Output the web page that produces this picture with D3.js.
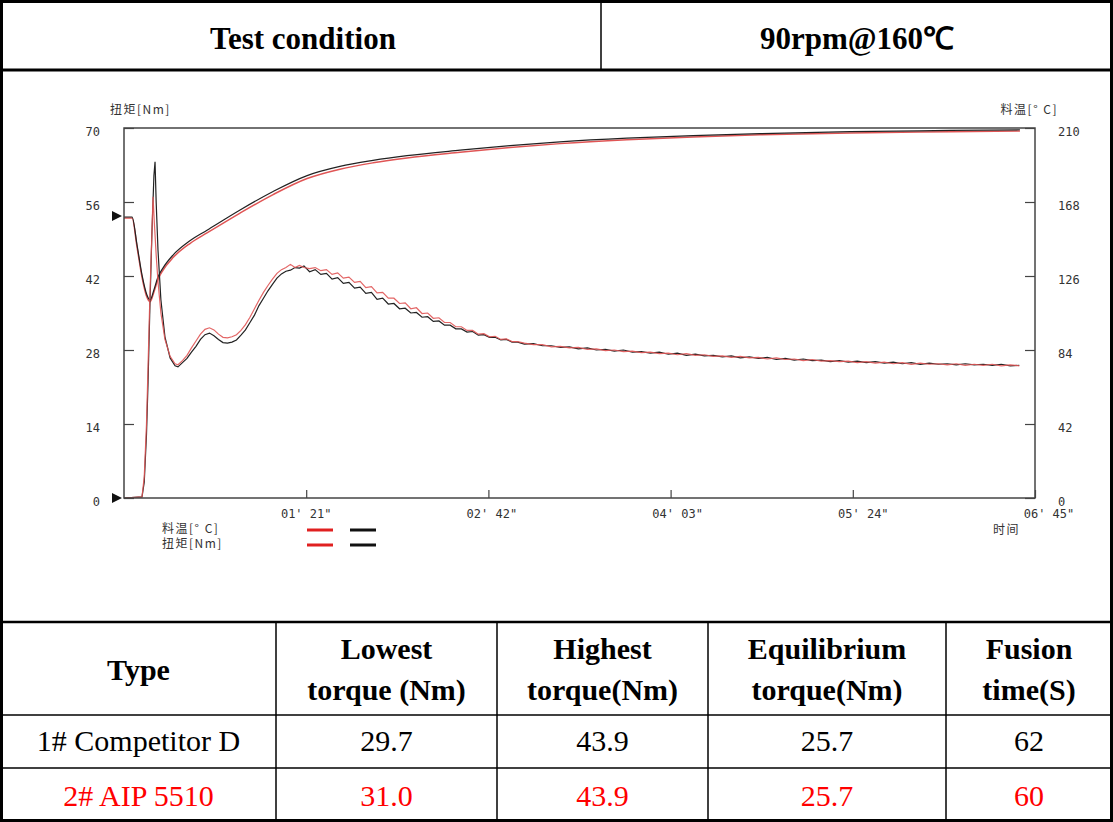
<!DOCTYPE html>
<html><head><meta charset="utf-8">
<script src="https://cdn.jsdelivr.net/npm/d3@7/dist/d3.min.js"></script>
<style>
body{margin:0;background:#fff;}
svg{display:block;}
</style></head>
<body><svg id="c" width="1113" height="822"></svg>
<script>
// ---------- data ----------
const torqueTicks = [0,14,28,42,56,70];
const tempTicks = [0,42,84,126,168,210];
const timeTicks = [81,162,243,324,405];

// temperature curves [time s, °C]
const tempBlack = [[0,159.5],[3.6,159.5],[5.8,143.6],[8,126.6],[10.2,115.2],[11.6,112.4],[13.3,118.1],[15.1,125.4],[17.3,130.5],[21.8,137.9],[29.3,146],[36.9,152],[51.6,163.5],[66.3,174],[81.4,183],[96,188.2],[110.7,191.6],[125.8,194.3],[149.4,197.4],[171.6,200],[193.8,202.1],[223.6,204.2],[253,205.7],[282.7,206.8],[322.8,207.9],[367.2,208.6],[398.3,209]];
const tempRed = [[0,159.5],[3.6,159.5],[5.8,143],[8,126],[10.2,114.5],[11.6,112],[13.3,117.5],[15.1,124.6],[17.3,129.8],[21.8,137],[29.3,145],[36.9,151],[51.6,162.3],[66.3,172.8],[81.4,181.9],[96,187.2],[110.7,190.8],[125.8,193.6],[149.4,196.8],[171.6,199.5],[193.8,201.7],[223.6,203.9],[253,205.5],[282.7,206.7],[322.8,207.8],[367.2,208.5],[398.3,208.9]];

// torque curves [time s, Nm]
const torqueBlack = [[0,0],[8,0.2],[9,3],[10,12],[10.7,22],[11.5,36],[12.4,50],[13.3,61],[13.8,63.6],[14.3,56],[15.1,47],[16.4,37.5],[18.2,30.5],[20.5,26.5],[22.7,25],[24,24.8],[26,25.6],[28,26.4],[30,27.6],[32,28.7],[34,30],[36,30.9],[38,31.2],[40,30.7],[42,30],[44,29.4],[46,29.3],[48,29.5],[50,29.9],[52,30.8],[54,31.8],[56,33.2],[58,34.6],[60,36.4],[62,37.8],[64,39.2],[66,40.4],[68,41.6],[70,42.4],[72,42.9],[74,43.1],[76,43.6],[78,43.5],[80,43.9],[82.5,42.8],[85,43.2],[87.5,42.3],[90,42.5],[92.5,41.4],[95,41.7],[97.5,40.6],[100,40.8],[102.5,39.7],[105,39.9],[107.5,38.7],[110,38.9],[112.5,37.6],[115,37.8],[117.5,36.7],[120,36.8],[122.5,35.8],[125,35.9],[127.5,35],[130,35.1],[132.5,34.2],[135,34.3],[137.5,33.4],[140,33.5],[142.5,32.7],[145,32.7],[147.5,32],[150,32],[152.5,31.4],[155,31.5],[157.5,30.8],[160,30.9],[162.5,30.4],[165,30.4],[167.5,29.9],[170,30],[172.5,29.5],[175,29.5],[178,29.1],[182,29.2],[186,28.8],[190,28.8],[194,28.5],[198,28.6],[202,28.2],[206,28.4],[210,28],[214,28.1],[218,27.8],[222,28],[226,27.6],[230,27.7],[234,27.4],[238,27.6],[242,27.2],[246,27.4],[250,27],[254,27.2],[258,26.9],[262,27],[266,26.7],[270,26.9],[274,26.5],[278,26.7],[282,26.4],[286,26.6],[290,26.2],[294,26.4],[298,26.1],[302,26.3],[306,26],[310,26.1],[314,25.8],[318,26],[322,25.7],[326,25.9],[330,25.6],[334,25.8],[338,25.5],[342,25.7],[346,25.4],[350,25.6],[354,25.3],[358,25.5],[362,25.3],[366,25.4],[370,25.2],[374,25.4],[378,25.2],[382,25.3],[386,25.1],[390,25.3],[394,25],[398,25.1]];
const torqueRed = [[0,0],[8,0.2],[9,4],[10,14],[10.7,25],[11.5,38],[12.4,50],[12.9,57],[13.5,52],[14.3,46],[15.1,41],[16.4,35],[18.2,30],[20.5,26.8],[22.7,25.4],[24,25.2],[26,26],[28,27],[30,28.4],[32,29.7],[34,31],[36,31.9],[38,32.2],[40,31.8],[42,31],[44,30.4],[46,30.3],[48,30.5],[50,30.9],[52,31.7],[54,32.8],[56,34.2],[58,35.8],[60,37.4],[62,38.9],[64,40.2],[66,41.4],[68,42.5],[70,43.2],[72,43.6],[74,44.2],[76,43.6],[78,44],[80,43.6],[82.5,43.4],[85,43.6],[87.5,43],[90,43.2],[92.5,42.3],[95,42.6],[97.5,41.6],[100,41.8],[102.5,40.8],[105,41],[107.5,39.8],[110,40],[112.5,38.8],[115,38.9],[117.5,37.8],[120,37.8],[122.5,36.8],[125,36.9],[127.5,35.8],[130,36],[132.5,34.9],[135,35],[137.5,34],[140,34.1],[142.5,33.2],[145,33.2],[147.5,32.4],[150,32.4],[152.5,31.7],[155,31.7],[157.5,31],[160,31.1],[162.5,30.5],[165,30.6],[167.5,30],[170,30.1],[172.5,29.6],[175,29.6],[178,29.3],[182,29],[186,29],[190,28.6],[194,28.7],[198,28.4],[202,28.5],[206,28.1],[210,28.2],[214,27.9],[218,28],[222,27.7],[226,27.8],[230,27.5],[234,27.6],[238,27.3],[242,27.4],[246,27.1],[250,27.3],[254,27],[258,27.1],[262,26.8],[266,26.9],[270,26.6],[274,26.8],[278,26.5],[282,26.6],[286,26.3],[290,26.5],[294,26.2],[298,26.3],[302,26],[306,26.2],[310,25.9],[314,26],[318,25.8],[322,25.9],[326,25.6],[330,25.8],[334,25.5],[338,25.7],[342,25.4],[346,25.6],[350,25.3],[354,25.5],[358,25.3],[362,25.4],[366,25.2],[370,25.4],[374,25.1],[378,25.3],[382,25.1],[386,25.3],[390,25],[394,25.2],[398,25]];

const setMarks = [{axis:"temp", v:160},{axis:"torque", v:0}];

// table
const headerCells = ["Test condition", "90rpm@160℃"];
const tableHeads = [["Type"],["Lowest","torque (Nm)"],["Highest","torque(Nm)"],["Equilibrium","torque(Nm)"],["Fusion","time(S)"]];
const rowCompetitor = ["1# Competitor D","29.7","43.9","25.7","62"];
const rowAIP = ["2# AIP 5510","31.0","43.9","25.7","60"];

// ---------- drawing ----------
const svg = d3.select("#c");
const serif = "'Liberation Serif','Times New Roman',serif";
const cjk = "'Noto Sans CJK SC','DejaVu Sans',sans-serif";
const mono = "'DejaVu Sans Mono','Liberation Mono',monospace";

// table grid
const colX = [1,276,497,708,946,1112];
const g = svg.append("g").attr("stroke","#000").attr("fill","none");
g.append("rect").attr("x",1.5).attr("y",1.5).attr("width",1110).attr("height",819).attr("stroke-width",3);
g.append("line").attr("x1",0).attr("x2",1113).attr("y1",70).attr("y2",70).attr("stroke-width",3);
g.append("line").attr("x1",601).attr("x2",601).attr("y1",0).attr("y2",70).attr("stroke-width",1.5);
g.append("line").attr("x1",0).attr("x2",1113).attr("y1",622).attr("y2",622).attr("stroke-width",2.5);
g.append("line").attr("x1",0).attr("x2",1113).attr("y1",715).attr("y2",715).attr("stroke-width",1.5);
g.append("line").attr("x1",0).attr("x2",1113).attr("y1",768).attr("y2",768).attr("stroke-width",1.5);
colX.slice(1,-1).forEach(x=>g.append("line").attr("x1",x).attr("x2",x).attr("y1",622).attr("y2",822).attr("stroke-width",1.5));

svg.append("text").attr("x",303).attr("y",49).attr("text-anchor","middle").attr("font-family",serif).attr("font-weight","bold").attr("font-size",31).text(headerCells[0]);
svg.append("text").attr("x",857).attr("y",49).attr("text-anchor","middle").attr("font-family",serif).attr("font-weight","bold").attr("font-size",31).text(headerCells[1]);

const colC = colX.slice(0,-1).map((x,i)=>(x+colX[i+1])/2);
tableHeads.forEach((lines,i)=>{
  const t = svg.append("text").attr("text-anchor","middle").attr("font-family",serif).attr("font-weight","bold").attr("font-size",30);
  if(lines.length===1){ t.attr("x",colC[i]).attr("y",680).text(lines[0]); }
  else {
    t.append("tspan").attr("x",colC[i]).attr("y",659).text(lines[0]);
    t.append("tspan").attr("x",colC[i]).attr("y",700).text(lines[1]);
  }
});
rowCompetitor.forEach((s,i)=>svg.append("text").attr("x",colC[i]).attr("y",751).attr("text-anchor","middle").attr("font-family",serif).attr("font-size",30).attr("fill","#000").text(s));
rowAIP.forEach((s,i)=>svg.append("text").attr("x",colC[i]).attr("y",806).attr("text-anchor","middle").attr("font-family",serif).attr("font-size",30).attr("fill","#ff0000").text(s));

// chart
const L=124,R=1035,T=128,B=498;
const x = d3.scaleLinear().domain([0,405]).range([L,R]);
const yTq = d3.scaleLinear().domain([0,70]).range([B,T]);
const yTp = d3.scaleLinear().domain([0,210]).range([B,T]);
const axisColor="#444";
const fmtTime = s => { const m=Math.floor(s/60), ss=s%60; return String(m).padStart(2,"0")+"' "+String(ss).padStart(2,"0")+'"'; };

const ch = svg.append("g");
const lineTq = d3.line().x(d=>x(d[0])).y(d=>yTq(d[1]));
const lineTp = d3.line().curve(d3.curveMonotoneX).x(d=>x(d[0])).y(d=>yTp(d[1]));

ch.append("path").datum(tempRed).attr("d",lineTp).attr("fill","none").attr("stroke","#e05555").attr("stroke-width",1.5).attr("transform","translate(0,1)");
ch.append("path").datum(tempBlack).attr("d",lineTp).attr("fill","none").attr("stroke","#222").attr("stroke-width",1.2);
ch.append("path").datum(torqueBlack).attr("d",lineTq).attr("fill","none").attr("stroke","#222").attr("stroke-width",1.2);
ch.append("path").datum(torqueRed).attr("d",lineTq).attr("fill","none").attr("stroke","#e05555").attr("stroke-width",1.2).attr("stroke-opacity",0.9);

// frame
ch.append("rect").attr("x",L).attr("y",T).attr("width",R-L).attr("height",B-T).attr("fill","none").attr("stroke",axisColor).attr("stroke-width",1.5);

const styleAxis = sel => { sel.select(".domain").remove(); sel.selectAll("line").attr("stroke",axisColor).attr("stroke-width",1.2);
  sel.selectAll("text").attr("fill","#333").attr("font-family",mono).attr("font-size",12); };

ch.append("g").attr("transform",`translate(${L},0)`)
  .call(d3.axisLeft(yTq).tickValues(torqueTicks).tickSize(-10).tickPadding(24))
  .call(styleAxis).selectAll("text").attr("dy","0.6em");
ch.append("g").attr("transform",`translate(${R},0)`)
  .call(d3.axisRight(yTp).tickValues(tempTicks).tickSize(-10).tickPadding(23))
  .call(styleAxis).selectAll("text").attr("dy","0.6em");
ch.append("g").attr("transform",`translate(0,${B})`)
  .call(d3.axisBottom(x).tickValues(timeTicks).tickFormat(fmtTime).tickSize(-8).tickPadding(11))
  .call(styleAxis).selectAll("text").attr("dx",(d,i)=>(i+1)*3.5-4);

// set-point triangles
setMarks.forEach(m=>{
  const yy = m.axis==="temp"? yTp(m.v) : yTq(m.v);
  ch.append("path").attr("d",`M${L-12},${yy-5}L${L-2},${yy}L${L-12},${yy+5}Z`).attr("fill","#111");
});

// axis titles
const lab = (tx,ty,s,anchor)=>ch.append("text").attr("x",tx).attr("y",ty).attr("text-anchor",anchor||"start").attr("font-family",cjk).attr("font-size",12).attr("letter-spacing",1.5).attr("fill","#333").text(s);
lab(110,114,"扭矩[Nm]");
lab(1058,114,"料温[° C]","end");
lab(993,534,"时间");
lab(162,533,"料温[° C]");
lab(162,548,"扭矩[Nm]");
// legend swatches
[[533,"#e02020",307],[548,"#e02020",307],[533,"#111",350],[548,"#111",350]].forEach(([yy,c,xx])=>
  ch.append("line").attr("x1",xx).attr("x2",xx+26).attr("y1",yy-3).attr("y2",yy-3).attr("stroke",c).attr("stroke-width",3));
</script>
</body></html>
